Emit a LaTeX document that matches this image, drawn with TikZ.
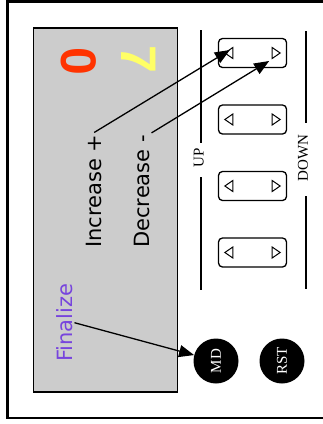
\documentclass[tikz,border=0pt]{standalone}
\usepackage{fontspec}
\setmainfont{DejaVu Sans}
\newfontfamily\keyfont{Liberation Serif}
\newfontfamily\digitfont{Liberation Sans}
\usetikzlibrary{arrows.meta}

\definecolor{panelgray}{RGB}{204,204,204}
\definecolor{digitred}{RGB}{255,51,0}
\definecolor{digityellow}{RGB}{255,255,102}
\definecolor{finpurple}{RGB}{119,68,221}

\tikzset{
  pointer/.style={line width=1.3pt,-{Triangle[length=15pt,width=12pt]}},
  keybox/.style={draw,line width=1.3pt,rounded corners=4pt,minimum width=68pt,minimum height=29pt,inner sep=0pt},
  tri/.style={line width=1pt,line join=miter},
  rail/.style={line width=1.6pt},
  caption/.style={rotate=90,inner sep=2pt,font=\fontsize{21}{25}\selectfont},
  sidelabel/.style={rotate=90,inner sep=0pt,font=\keyfont\fontsize{15}{15}\selectfont},
  digit/.style={rotate=-90,inner sep=0pt,font=\digitfont\bfseries\fontsize{50}{50}\selectfont},
  knob/.style={circle,fill=black,minimum size=45pt,inner sep=0pt,text=white,rotate=90,font=\keyfont\fontsize{15}{15}\selectfont}
}

\begin{document}
\begin{tikzpicture}[x=1pt,y=-1pt]
    \useasboundingbox (0,0) rectangle (323,424);

    % frame and display panel
    \draw[line width=2.5pt] (330,1.3) -- (7.3,1.3) -- (7.3,418) -- (330,418);
    \draw[line width=1.5pt,fill=panelgray] (33.5,28) rectangle (177.5,392);

    \node[digit,text=digitred] (tens) at (79,61) {0};
    \node[digit,text=digityellow] (units) at (138.7,59) {7};

    \node[caption,anchor=base west] (inc) at (101.7,250) {Increase +};
    \node[caption,anchor=base west] (dec) at (149,250) {Decrease -};
    \node[caption,anchor=base west,text=finpurple] (fin) at (72,364) {Finalize};

    % side rails
    \draw[rail] (201,30) -- (201,143) (201,177) -- (201,290);
    \draw[rail] (306,31) -- (306,123) (306,196) -- (306,289);
    \node[sidelabel] (up) at (198.7,157.5) {UP};
    \node[sidelabel] (down) at (303,158) {DOWN};

    % keys
    \foreach \i/\yy in {1/53,2/119.5,3/186,4/252.5}{
      \node[keybox] (key\i) at (252.5,\yy) {};
      \draw[tri] ([xshift=7pt]key\i.west) -- ++(8,-5.5) -- ++(0,11) -- cycle;
      \draw[tri] ([xshift=-7pt]key\i.east) -- ++(-8,-5.5) -- ++(0,11) -- cycle;
    }

    \node[knob] (md) at (216,361) {MD};
    \node[knob] (rst) at (282,361) {RST};

    \coordinate (incTip) at ([xshift=12pt,yshift=3pt]key1.west);
    \coordinate (decTip) at ([xshift=-18pt,yshift=-8pt]key1.east);

    \draw[pointer] (inc.east) -- (incTip);
    \draw[pointer] (dec.south east) -- (decTip);
    \draw[pointer] (fin.south) -- (md);
\end{tikzpicture}
\end{document}
